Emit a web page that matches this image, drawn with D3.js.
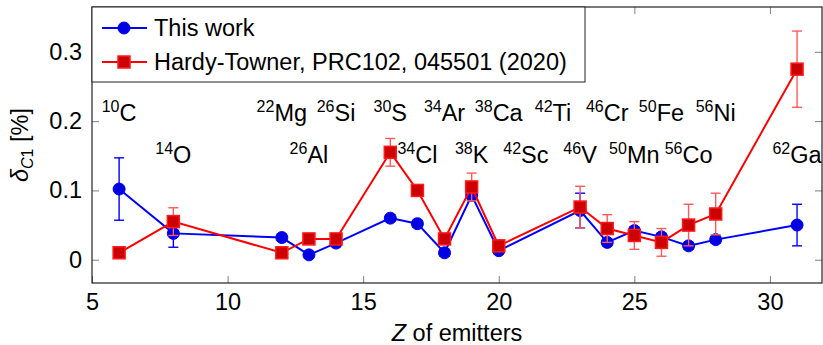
<!DOCTYPE html>
<html>
<head>
<meta charset="utf-8">
<script src="https://cdn.jsdelivr.net/npm/d3@7"></script>
<style>
body { margin: 0; background: #fff; }
svg text { font-family: "Liberation Sans", Arial, sans-serif; fill: #000; }
</style>
</head>
<body>
<div id="svg-container"></div>
<script>
let w = 823;
let h = 345;
let mLeft = 92, mRight = 822, mTop = 7, mBottom = 283;
let fs = '23.5px';

// data
let Z = [6, 8, 12, 13, 14, 16, 17, 18, 19, 20, 23, 24, 25, 26, 27, 28, 31];
let thisWork = [0.102, 0.038, 0.032, 0.007, 0.024, 0.060, 0.052, 0.010, 0.093, 0.013, 0.071, 0.025, 0.042, 0.033, 0.020, 0.029, 0.050];
let thisWorkErr = [0.045, 0.020, 0.005, 0.005, 0.005, 0.005, 0.005, 0.005, 0.005, 0.005, 0.025, 0.005, 0.005, 0.005, 0.005, 0.005, 0.030];
let hardy = [0.010, 0.055, 0.010, 0.030, 0.030, 0.155, 0.100, 0.030, 0.105, 0.020, 0.076, 0.045, 0.035, 0.025, 0.050, 0.066, 0.275];
let hardyErr = [0.005, 0.020, 0.005, 0.005, 0.005, 0.020, 0.005, 0.005, 0.020, 0.005, 0.030, 0.020, 0.020, 0.020, 0.030, 0.030, 0.055];

let nucZ = [6, 8, 12, 13, 14, 16, 17, 18, 19, 20, 21, 22, 23, 24, 25, 26, 27, 28, 31];
let nucMass = [10, 14, 22, 26, 26, 30, 34, 34, 38, 38, 42, 42, 46, 46, 50, 50, 56, 56, 62];
let nucSym = ['C', 'O', 'Mg', 'Al', 'Si', 'S', 'Cl', 'Ar', 'K', 'Ca', 'Sc', 'Ti', 'V', 'Cr', 'Mn', 'Fe', 'Co', 'Ni', 'Ga'];
let nucY = [0.2, 0.14, 0.2, 0.14, 0.2, 0.2, 0.14, 0.2, 0.14, 0.2, 0.14, 0.2, 0.14, 0.2, 0.14, 0.2, 0.14, 0.2, 0.14];

let xTicks = [5, 10, 15, 20, 25, 30];
let yTicks = [0, 0.1, 0.2, 0.3];

let seriesNames = ['This work', 'Hardy-Towner, PRC102, 045501 (2020)'];

let svg = d3.select('#svg-container').
append('svg').
attr('width', w).
attr('height', h);

let x = d3.scaleLinear().domain([5, 31.92]).range([mLeft, mRight]);
let y = d3.scaleLinear().domain([-0.0336, 0.3647]).range([mBottom, mTop]);

// ticks inside, on all four sides
let tickLen = 7;
let tickColor = '#808080';
svg.append('g').
attr('transform', 'translate(0,' + mBottom + ')').
call(d3.axisBottom(x).tickValues(xTicks).tickSizeInner(-tickLen).tickSizeOuter(0).tickPadding(10)).
call(g => g.select('.domain').remove()).
call(g => g.selectAll('line').attr('stroke', tickColor)).
call(g => g.selectAll('text').style('font-size', fs));

svg.append('g').
attr('transform', 'translate(0,' + mTop + ')').
call(d3.axisTop(x).tickValues(xTicks).tickSizeInner(-tickLen).tickSizeOuter(0).tickFormat('')).
call(g => g.select('.domain').remove()).
call(g => g.selectAll('line').attr('stroke', tickColor));

svg.append('g').
attr('transform', 'translate(' + mLeft + ',0)').
call(d3.axisLeft(y).tickValues(yTicks).tickSizeInner(-tickLen).tickSizeOuter(0).tickPadding(10).tickFormat(d3.format('~g'))).
call(g => g.select('.domain').remove()).
call(g => g.selectAll('line').attr('stroke', tickColor)).
call(g => g.selectAll('text').style('font-size', fs));

svg.append('g').
attr('transform', 'translate(' + mRight + ',0)').
call(d3.axisRight(y).tickValues(yTicks).tickSizeInner(-tickLen).tickSizeOuter(0).tickFormat('')).
call(g => g.select('.domain').remove()).
call(g => g.selectAll('line').attr('stroke', tickColor));

svg.append('rect').
attr('x', mLeft).
attr('y', mTop).
attr('width', mRight - mLeft).
attr('height', mBottom - mTop).
attr('fill', 'none').
attr('stroke', '#222').
attr('stroke-width', 1.2);

// nuclide labels
let labels = svg.append('g').selectAll('text').
data(nucZ).
join('text').
attr('x', d => x(d)).
attr('y', (d, i) => y(nucY[i])).
attr('dy', '0.36em').
attr('text-anchor', 'middle').
style('font-size', fs);
labels.append('tspan').
attr('dy', -9).
style('font-size', '16px').
text((d, i) => nucMass[i]);
labels.append('tspan').
attr('dy', 9).
text((d, i) => nucSym[i]);

let capW = 5;
function drawSeries(vals, errs, color, errColor, kind) {
  let g = svg.append('g');
  let line = d3.line().x((d, i) => x(Z[i])).y(d => y(d));
  g.append('path').
  datum(vals).
  attr('d', line).
  attr('fill', 'none').
  attr('stroke', color).
  attr('stroke-width', 2);

  let eb = g.selectAll('g.err').
  data(vals).
  join('g').
  attr('stroke', errColor).
  attr('stroke-width', 1.4);
  eb.append('line').
  attr('x1', (d, i) => x(Z[i])).
  attr('x2', (d, i) => x(Z[i])).
  attr('y1', (d, i) => y(d - errs[i])).
  attr('y2', (d, i) => y(d + errs[i]));
  eb.append('line').
  attr('x1', (d, i) => x(Z[i]) - capW).
  attr('x2', (d, i) => x(Z[i]) + capW).
  attr('y1', (d, i) => y(d + errs[i])).
  attr('y2', (d, i) => y(d + errs[i]));
  eb.append('line').
  attr('x1', (d, i) => x(Z[i]) - capW).
  attr('x2', (d, i) => x(Z[i]) + capW).
  attr('y1', (d, i) => y(d - errs[i])).
  attr('y2', (d, i) => y(d - errs[i]));

  if (kind == 'circle') {
    g.selectAll('circle').
    data(vals).
    join('circle').
    attr('cx', (d, i) => x(Z[i])).
    attr('cy', d => y(d)).
    attr('r', 6).
    attr('fill', '#0000e0').
    attr('stroke', 'blue');
  } else {
    g.selectAll('rect').
    data(vals).
    join('rect').
    attr('x', (d, i) => x(Z[i]) - 6).
    attr('y', d => y(d) - 6).
    attr('width', 12).
    attr('height', 12).
    attr('fill', '#cc0000').
    attr('stroke', '#ff1a1a').
    attr('stroke-width', 1.5);
  }
}

drawSeries(thisWork, thisWorkErr, 'blue', 'blue', 'circle');
drawSeries(hardy, hardyErr, 'red', '#ff5a5a', 'square');

// legend
let legend = svg.append('g');
legend.append('rect').
attr('x', mLeft).
attr('y', mTop).
attr('width', 493).
attr('height', 75).
attr('fill', '#fff').
attr('stroke', '#222').
attr('stroke-width', 1);

let items = legend.selectAll('g.item').
data(seriesNames).
join('g').
attr('transform', (d, i) => 'translate(0,' + (28 + i * 34) + ')');
items.append('line').
attr('x1', 102).
attr('x2', 147).
attr('stroke', (d, i) => i == 0 ? 'blue' : 'red').
attr('stroke-width', 2);
items.filter((d, i) => i == 0).append('circle').
attr('cx', 124).
attr('r', 6).
attr('fill', '#0000e0').
attr('stroke', 'blue');
items.filter((d, i) => i == 1).append('rect').
attr('x', 118).
attr('y', -6).
attr('width', 12).
attr('height', 12).
attr('fill', '#cc0000').
attr('stroke', '#ff1a1a').
attr('stroke-width', 1.5);
items.append('text').
attr('x', 154).
attr('dy', '0.35em').
style('font-size', fs).
text(d => d);

// axis titles
let xl = svg.append('text').
attr('x', (mLeft + mRight) / 2).
attr('y', 341).
attr('text-anchor', 'middle').
style('font-size', fs);
xl.append('tspan').style('font-style', 'italic').text('Z');
xl.append('tspan').text(' of emitters');

let yl = svg.append('text').
attr('transform', 'translate(28,' + (mTop + mBottom) / 2 + ') rotate(-90)').
attr('text-anchor', 'middle').
style('font-size', fs);
yl.append('tspan').style('font-style', 'italic').text('δ');
yl.append('tspan').attr('dy', 5).style('font-size', '16px').style('font-style', 'italic').text('C');
yl.append('tspan').style('font-size', '16px').text('1');
yl.append('tspan').attr('dy', -5).text(' [%]');
</script>
</body>
</html>
